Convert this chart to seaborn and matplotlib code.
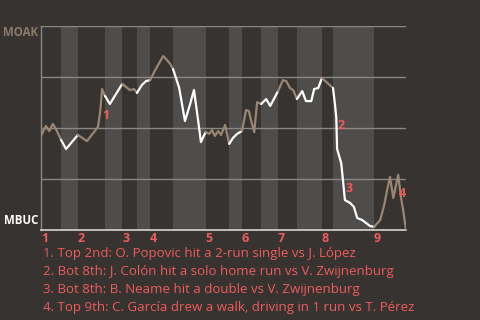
import matplotlib
matplotlib.use("Agg")
import matplotlib.pyplot as plt
import matplotlib.transforms as mtransforms
import seaborn as sns
import pandas as pd

# ---- data ----
away_team = "MOAK"
home_team = "MBUC"

# play position along the game and MOAK win probability
play_x = [0.0, 1.2, 2.0, 2.9, 3.9, 4.9, 6.1, 9.0, 11.2, 13.9, 14.4, 14.9, 15.6, 16.8,
          19.8, 21.7, 22.7, 23.4, 24.6, 25.6, 26.6, 27.6, 29.8, 30.5, 31.5, 32.2,
          33.7, 35.1, 36.3, 37.3, 38.3, 39.0, 39.8, 40.2, 41.0, 41.7, 42.4, 43.2,
          43.9, 44.9, 45.9, 46.8, 47.8, 49.0, 50.0, 50.7, 51.2, 52.0, 52.7, 53.7,
          54.9, 55.9, 57.8, 59.0, 59.8, 60.7, 61.5, 62.4, 63.7, 64.6, 65.9, 66.6,
          67.6, 68.5, 71.2, 71.7, 72.0, 72.2, 73.2, 73.7, 74.1, 75.4, 76.3, 77.1,
          78.3, 80.2, 81.2, 82.7, 83.7, 84.4, 85.1, 85.9, 87.1, 87.8, 88.3, 89.0]
win_prob = [0.461, 0.510, 0.485, 0.520, 0.485, 0.441, 0.397, 0.466, 0.436, 0.505,
            0.574, 0.691, 0.657, 0.618, 0.716, 0.686, 0.691, 0.672, 0.711, 0.730,
            0.735, 0.775, 0.853, 0.838, 0.814, 0.789, 0.696, 0.534, 0.613, 0.686,
            0.539, 0.431, 0.466, 0.480, 0.471, 0.490, 0.461, 0.485, 0.466, 0.515,
            0.422, 0.451, 0.471, 0.485, 0.588, 0.583, 0.539, 0.480, 0.627, 0.618,
            0.642, 0.608, 0.681, 0.735, 0.730, 0.696, 0.686, 0.642, 0.681, 0.632,
            0.632, 0.691, 0.696, 0.745, 0.696, 0.613, 0.549, 0.397, 0.328, 0.230,
            0.147, 0.132, 0.113, 0.059, 0.049, 0.020, 0.015, 0.049, 0.123, 0.196,
            0.260, 0.157, 0.270, 0.157, 0.098, 0.000]

# half-inning boundaries (play positions)
half_bounds = [0.0, 4.9, 9.0, 15.6, 19.8, 23.4, 26.6, 32.2, 40.2, 45.9, 49.0,
               53.7, 57.8, 62.4, 68.5, 71.2, 81.2, 89.0]
inning_labels = ["1", "2", "3", "4", "5", "6", "7", "8", "9"]

# key plays: win-probability swing from / to play index, marker, description
key_play_from = [9, 64, 68, 81]
key_play_to = [11, 67, 70, 82]
key_play_mark = ["1", "2", "3", "4"]
key_play_text = [
    "1. Top 2nd: O. Popovic hit a 2-run single vs J. López",
    "2. Bot 8th: J. Colón hit a solo home run vs V. Zwijnenburg",
    "3. Bot 8th: B. Neame hit a double vs V. Zwijnenburg",
    "4. Top 9th: C. García drew a walk, driving in 1 run vs T. Pérez",
]

# ---- style ----
BG = "#363330"
BAND = "#4e4d4b"
GRID = "#8a8884"
TAN = "#9a8673"
RED = "#f05c5c"
WHITE = "#ffffff"

sns.set_theme(style="dark")
plt.rcParams["font.family"] = ["Open Sans", "DejaVu Sans"]

fig = plt.figure(figsize=(4.8, 3.2), dpi=100, facecolor=BG)
ax = fig.add_axes([41 / 480, 90 / 320, 365 / 480, 204 / 320])
ax.set_facecolor(BG)

df = pd.DataFrame({"x": play_x, "wp": win_prob})

# bottom-half shading
for i in range(1, len(half_bounds) - 1, 2):
    ax.axvspan(half_bounds[i], half_bounds[i + 1], color=BAND, lw=0, zorder=0)

for yv in [0.25, 0.5, 0.75, 1.0]:
    ax.axhline(yv, color=GRID, lw=1.0, zorder=1)

# line segments, coloured by batting team
for i in range(len(half_bounds) - 1):
    lo, hi = half_bounds[i], half_bounds[i + 1]
    seg = df[(df["x"] >= lo - 1e-9) & (df["x"] <= hi + 1e-9)]
    sns.lineplot(data=seg, x="x", y="wp", ax=ax, sort=False, estimator=None,
                 color=TAN if i % 2 == 0 else WHITE, lw=1.6, zorder=3)

ax.set_xlim(half_bounds[0], half_bounds[-1])
ax.set_ylim(0, 1)
ax.set_xticks([])
ax.set_yticks([])
ax.set_xlabel("")
ax.set_ylabel("")
for s in ["top", "right"]:
    ax.spines[s].set_visible(False)
ax.spines["left"].set_color(GRID)
ax.spines["left"].set_linewidth(1.0)
ax.spines["bottom"].set_color("#d8d6d3")
ax.spines["bottom"].set_linewidth(1.2)

# team labels
fig.text(38 / 480, 1 - 33 / 320, away_team, ha="right", va="center",
         color="#8c7a69", fontsize=8.3, fontweight="bold")
fig.text(38 / 480, 1 - 221 / 320, home_team, ha="right", va="center",
         color=WHITE, fontsize=8.3, fontweight="bold")

# inning numbers
trans = mtransforms.blended_transform_factory(ax.transData, ax.transAxes)
for k, lab in enumerate(inning_labels):
    ax.text(half_bounds[2 * k], -0.04, lab, transform=trans, ha="left", va="center",
            color=RED, fontsize=9, fontweight="bold", clip_on=False)

# key-play markers
for i0, i1, mark in zip(key_play_from, key_play_to, key_play_mark):
    xm = play_x[i1]
    ym = (win_prob[i0] + win_prob[i1]) / 2
    ax.annotate(mark, (xm, ym), xytext=(4, -7), textcoords="offset pixels",
                ha="center", va="center", color=RED, fontsize=9, fontweight="bold",
                zorder=4)

# key-play descriptions
for j, txt in enumerate(key_play_text):
    fig.text(43 / 480, 1 - (254 + 18 * j) / 320, txt, ha="left", va="center",
             color=RED, fontsize=9.5)

fig.savefig("out.png", dpi=100, facecolor=BG)
